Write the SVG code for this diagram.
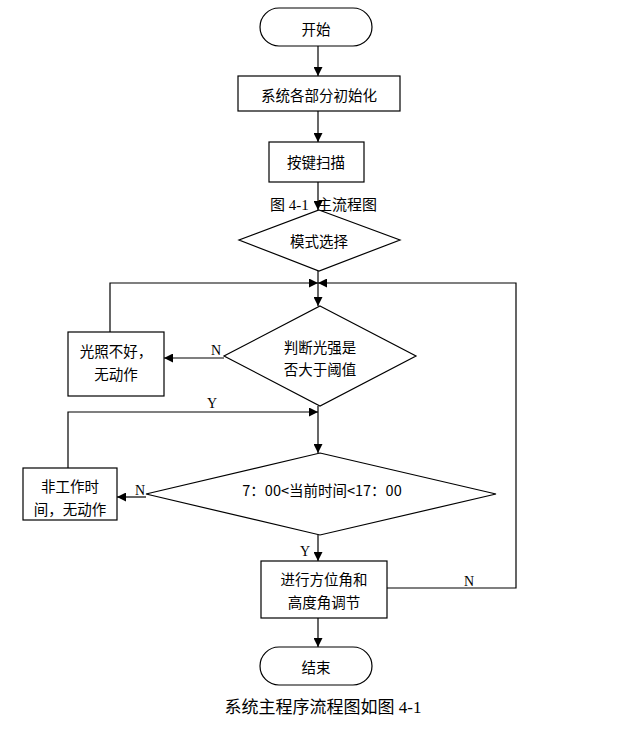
<svg xmlns="http://www.w3.org/2000/svg" width="627" height="737" viewBox="0 0 627 737">
<defs>
<marker id="ah" viewBox="0 0 10 10" refX="10" refY="5" markerWidth="9" markerHeight="9" markerUnits="userSpaceOnUse" orient="auto">
<path d="M0,0 L10,5 L0,10 Z" fill="#000"/>
</marker>
<style>
.s{fill:#fff;stroke:#000;stroke-width:1.2}
.t{font-family:"Noto Sans CJK SC","Liberation Sans",sans-serif;font-size:14.5px;fill:#000;text-anchor:middle;dominant-baseline:central}
.l{fill:none;stroke:#000;stroke-width:1.2}
.yn{font-family:"Liberation Serif","Noto Sans CJK SC",serif;font-size:14px;fill:#000;text-anchor:middle;dominant-baseline:central}
.cap{font-family:"Liberation Serif","Noto Sans CJK SC",serif;fill:#000}
</style>
</defs>
<rect width="627" height="737" fill="#fff"/>
<g id="connectors">
<path class="l" d="M318,46 V76" marker-end="url(#ah)"/>
<path class="l" d="M318,111 V142" marker-end="url(#ah)"/>
<path class="l" d="M318,182 V210" marker-end="url(#ah)"/>
<path class="l" d="M318,271 V306" marker-end="url(#ah)"/>
<path class="l" d="M110,332 V283 H318" marker-end="url(#ah)"/>
<path class="l" d="M387,588 H516 V283 H318" marker-end="url(#ah)"/>
<path class="l" d="M224,358 H164" marker-end="url(#ah)"/>
<path class="l" d="M318,406 V453" marker-end="url(#ah)"/>
<path class="l" d="M68,468 V412 H318" marker-end="url(#ah)"/>
<path class="l" d="M146,497 H117" marker-end="url(#ah)"/>
<path class="l" d="M318,535 V561" marker-end="url(#ah)"/>
<path class="l" d="M318,618 V647" marker-end="url(#ah)"/>
<text class="yn" x="216" y="350">N</text>
<text class="yn" x="212" y="403">Y</text>
<text class="yn" x="140" y="490">N</text>
<text class="yn" x="305" y="551">Y</text>
<text class="yn" x="469" y="581">N</text>
</g>
<g id="start">
<rect class="s" x="260" y="8" width="112" height="38" rx="19"/>
<text class="t" x="316" y="28">开始</text>
</g>
<g id="init">
<rect class="s" x="238" y="76" width="162" height="35"/>
<text class="t" x="319" y="94">系统各部分初始化</text>
</g>
<g id="scan">
<rect class="s" x="269" y="142" width="95" height="40"/>
<text class="t" x="316" y="161">按键扫描</text>
</g>
<g id="caption-fig">
<text class="cap" x="270" y="210" font-size="15">图 4-1</text>
<text class="cap" x="317" y="210" font-size="15">主流程图</text>
</g>
<g id="mode">
<polygon class="s" points="319,210 400,240 319,271 239,240"/>
<text class="t" x="319" y="240">模式选择</text>
</g>
<g id="light">
<polygon class="s" points="320,306 416,356 320,406 224,356"/>
<text class="t" x="320" y="346">判断光强是</text>
<text class="t" x="320" y="368">否大于阈值</text>
</g>
<g id="nolight">
<rect class="s" x="68" y="332" width="96" height="64"/>
<text class="t" x="116" y="350">光照不好，</text>
<text class="t" x="116" y="373">无动作</text>
</g>
<g id="time">
<polygon class="s" points="320,453 496,494 320,535 146,494"/>
<text class="t" x="322" y="489">7：00&lt;当前时间&lt;17：00</text>
</g>
<g id="notime">
<rect class="s" x="23" y="468" width="94" height="52"/>
<text class="t" x="70" y="485">非工作时</text>
<text class="t" x="70" y="508">间，无动作</text>
</g>
<g id="adjust">
<rect class="s" x="261" y="561" width="126" height="57"/>
<text class="t" x="324" y="578">进行方位角和</text>
<text class="t" x="324" y="601">高度角调节</text>
</g>
<g id="end">
<rect class="s" x="260" y="647" width="112" height="38" rx="19"/>
<text class="t" x="316" y="666">结束</text>
</g>
<g id="caption">
<text class="cap" x="323" y="713" font-size="17" text-anchor="middle" fill="#333">系统主程序流程图如图 4-1</text>
</g>
</svg>
